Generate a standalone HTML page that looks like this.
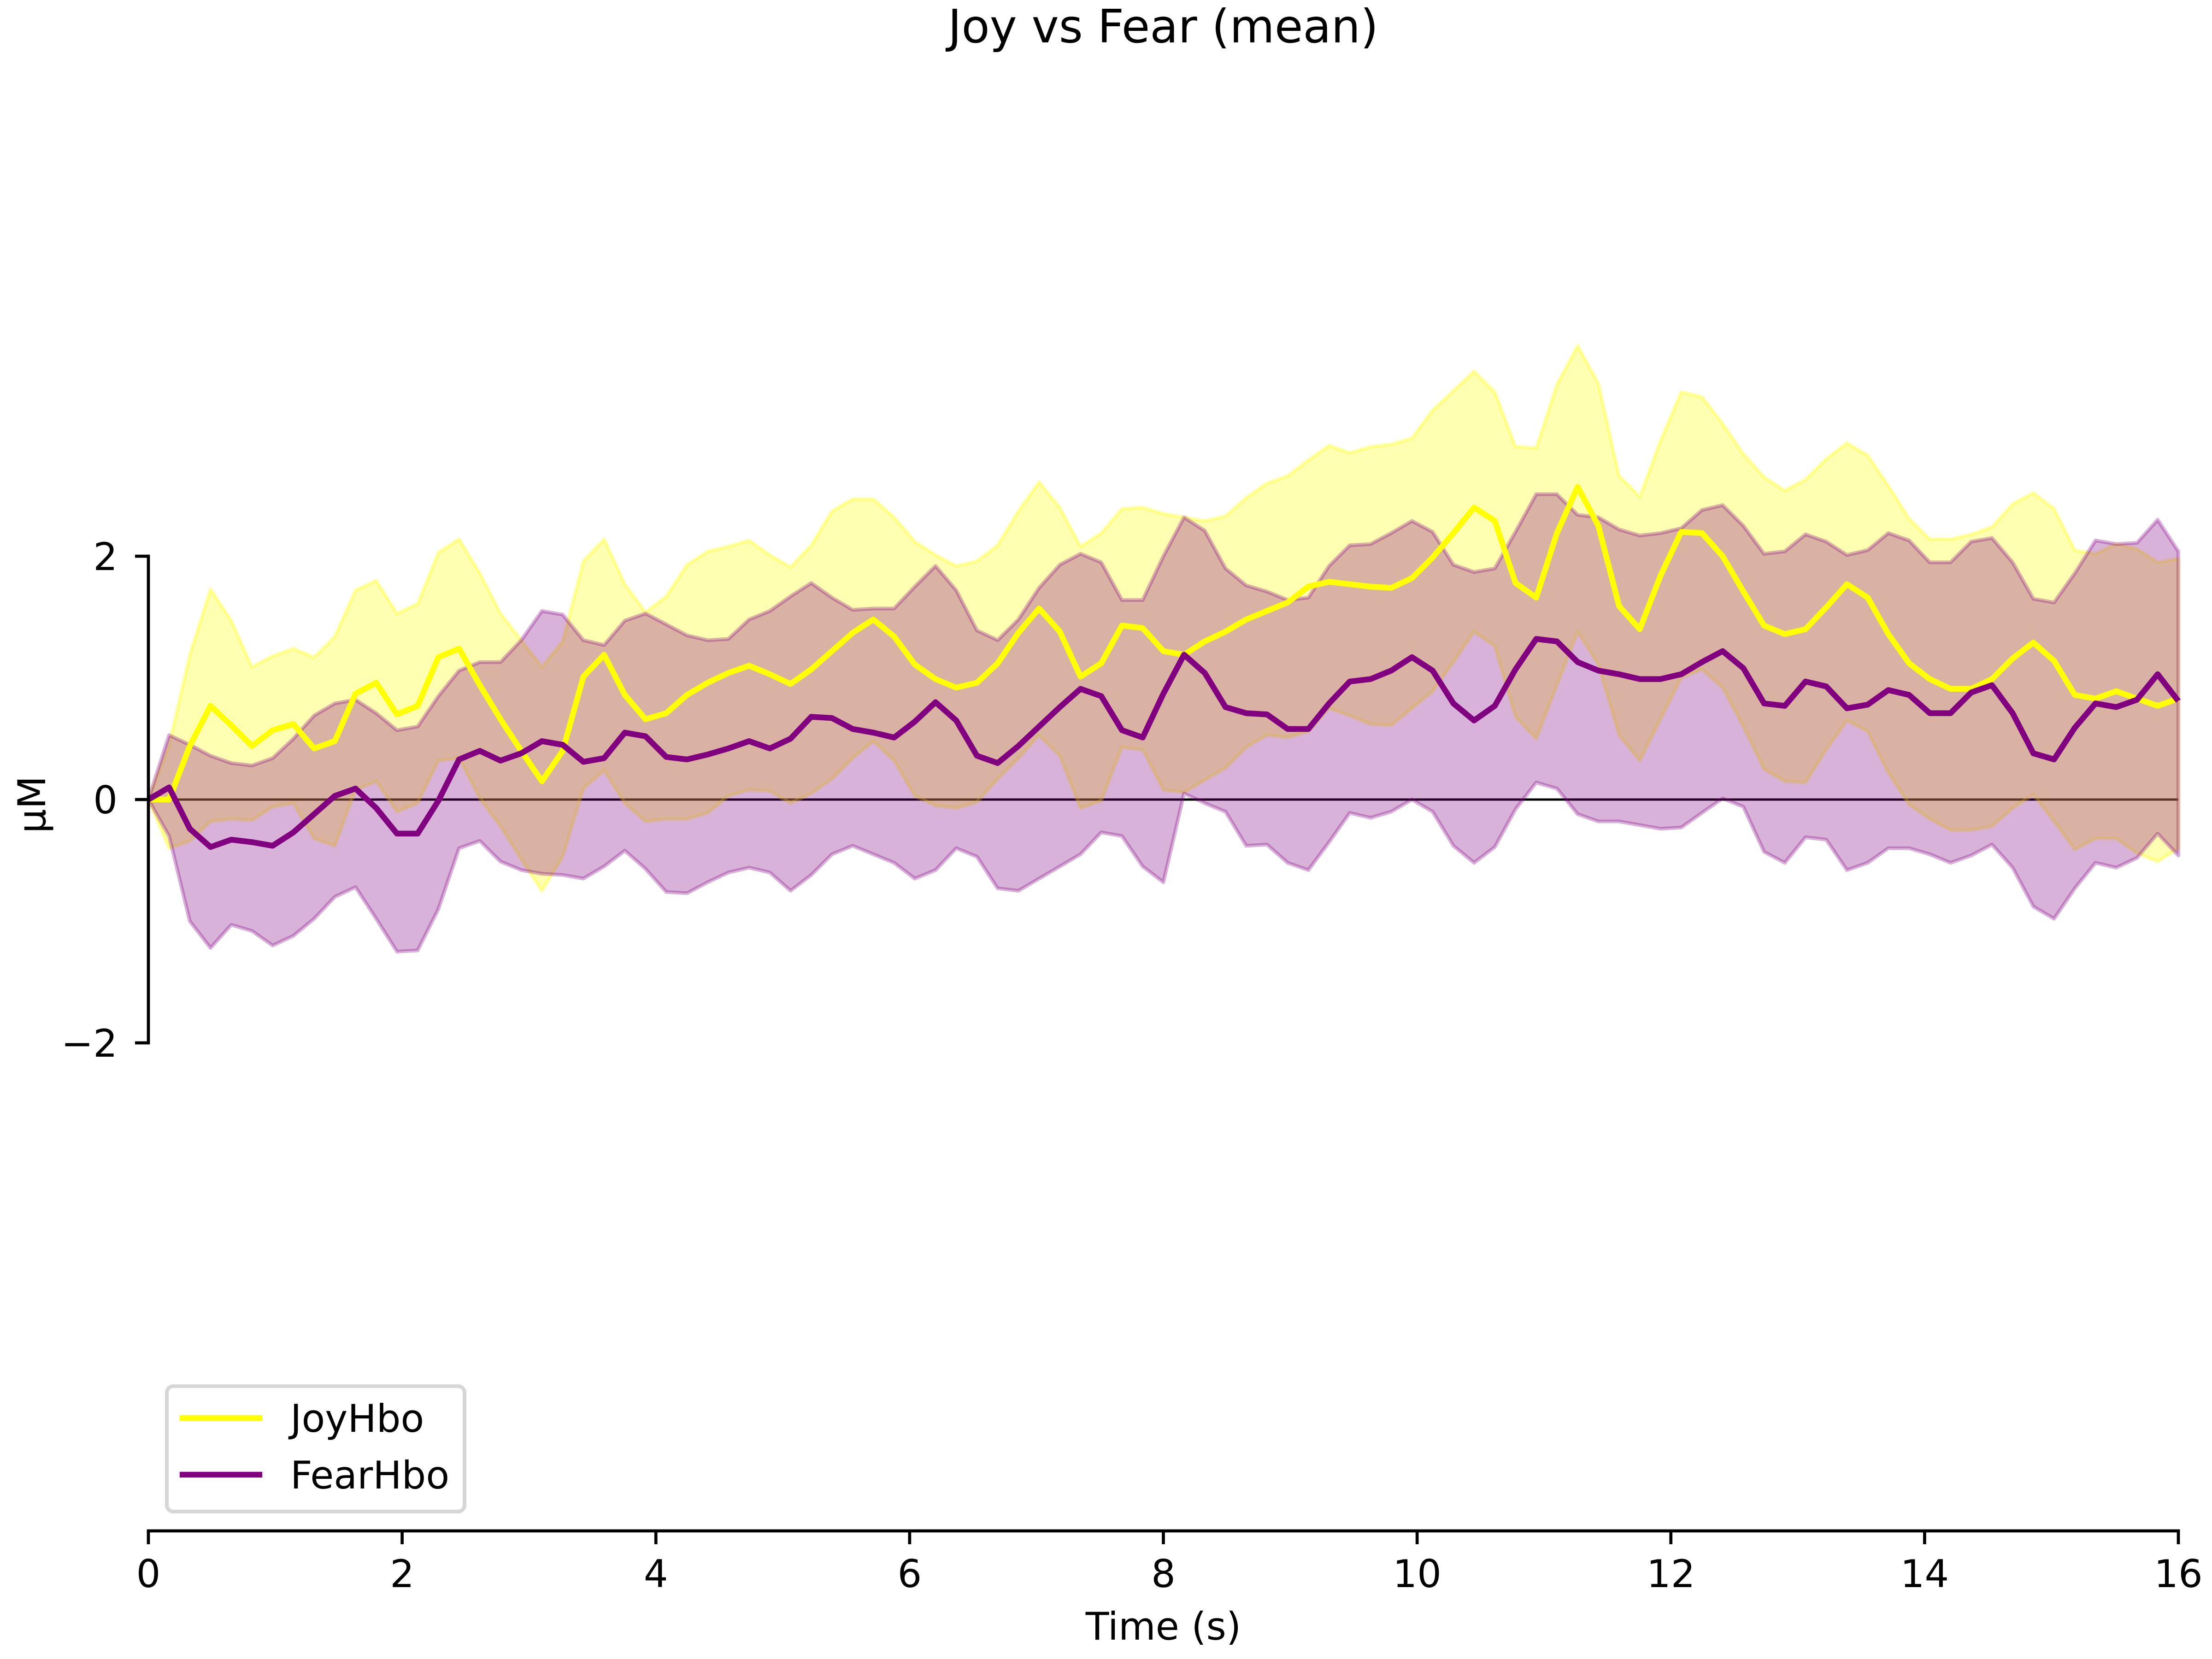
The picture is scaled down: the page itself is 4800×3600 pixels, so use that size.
<!DOCTYPE html>
<html><head><meta charset="utf-8"><style>
html,body{margin:0;padding:0;background:#fff;}
svg{display:block;}
text{font-family:"DejaVu Sans","Liberation Sans",sans-serif;}
</style></head><body>
<svg id="chart" width="4800" height="3600" viewBox="0 0 4800 3600" xmlns="http://www.w3.org/2000/svg">
<rect width="4800" height="3600" fill="#fff"/>
<text x="2524" y="92" font-size="100" text-anchor="middle">Joy vs Fear (mean)</text>
<g id="plot"></g>
<g id="axes"></g>
<g>
<rect x="362" y="3008" width="646" height="272" rx="14" fill="#fff" stroke="#d6d6d6" stroke-width="8"/>
<line x1="390" y1="3077" x2="569" y2="3077" stroke="#ffff00" stroke-width="12.5"/>
<text x="630" y="3107" font-size="83">JoyHbo</text>
<line x1="390" y1="3200" x2="569" y2="3200" stroke="#800080" stroke-width="12.5"/>
<text x="630" y="3230" font-size="83">FearHbo</text>
</g>
</svg>
<script>
const joyMean=[0,0.0,0.44,0.77,0.61,0.44,0.57,0.62,0.42,0.48,0.87,0.96,0.70,0.77,1.17,1.24,0.94,0.66,0.40,0.15,0.40,1.01,1.19,0.86,0.66,0.71,0.86,0.96,1.04,1.10,1.03,0.95,1.07,1.22,1.37,1.48,1.34,1.11,0.99,0.92,0.96,1.12,1.37,1.57,1.38,1.01,1.12,1.43,1.41,1.22,1.19,1.30,1.38,1.48,1.55,1.62,1.75,1.79,1.77,1.75,1.74,1.82,1.99,2.19,2.40,2.29,1.78,1.66,2.19,2.57,2.25,1.59,1.40,1.84,2.20,2.19,2.00,1.71,1.43,1.36,1.40,1.58,1.77,1.66,1.36,1.12,0.99,0.91,0.91,0.99,1.16,1.29,1.14,0.86,0.83,0.89,0.83,0.77,0.83];
const joyUpper=[0,0.45,1.19,1.73,1.47,1.09,1.18,1.24,1.17,1.34,1.72,1.80,1.53,1.61,2.03,2.14,1.86,1.53,1.31,1.09,1.30,1.96,2.14,1.77,1.54,1.67,1.93,2.04,2.08,2.13,2.01,1.91,2.09,2.37,2.47,2.47,2.32,2.12,2.01,1.92,1.96,2.09,2.37,2.61,2.40,2.08,2.19,2.39,2.40,2.35,2.32,2.29,2.33,2.48,2.60,2.66,2.79,2.91,2.85,2.90,2.92,2.97,3.20,3.36,3.52,3.35,2.90,2.89,3.41,3.73,3.42,2.66,2.49,2.95,3.35,3.31,3.09,2.84,2.65,2.54,2.63,2.80,2.93,2.83,2.58,2.31,2.14,2.14,2.18,2.24,2.43,2.52,2.39,2.05,2.02,2.10,2.06,1.95,1.98];
const joyLower=[0,-0.40,-0.34,-0.18,-0.16,-0.17,-0.06,-0.03,-0.32,-0.38,0.08,0.15,-0.10,-0.03,0.32,0.34,0.01,-0.22,-0.49,-0.75,-0.47,0.09,0.24,-0.03,-0.18,-0.16,-0.16,-0.11,0.03,0.08,0.07,-0.03,0.05,0.17,0.34,0.48,0.32,0.03,-0.05,-0.07,-0.02,0.17,0.34,0.53,0.36,-0.07,-0.01,0.43,0.41,0.08,0.06,0.16,0.26,0.43,0.53,0.51,0.56,0.75,0.69,0.62,0.61,0.75,0.89,1.13,1.38,1.26,0.68,0.50,0.94,1.38,1.11,0.53,0.32,0.66,1.00,1.07,0.92,0.60,0.25,0.15,0.14,0.41,0.65,0.56,0.22,-0.04,-0.16,-0.25,-0.25,-0.22,-0.07,0.04,-0.18,-0.41,-0.32,-0.32,-0.44,-0.51,-0.40];
const fearMean=[0,0.10,-0.24,-0.39,-0.33,-0.35,-0.38,-0.27,-0.12,0.03,0.09,-0.07,-0.28,-0.28,-0.01,0.33,0.40,0.32,0.38,0.48,0.45,0.31,0.34,0.55,0.52,0.35,0.33,0.37,0.42,0.48,0.42,0.50,0.68,0.67,0.58,0.55,0.51,0.64,0.80,0.65,0.36,0.30,0.44,0.60,0.76,0.91,0.85,0.57,0.51,0.87,1.19,1.04,0.76,0.71,0.70,0.58,0.58,0.79,0.97,0.99,1.06,1.17,1.06,0.79,0.65,0.77,1.07,1.32,1.30,1.13,1.06,1.03,0.99,0.99,1.03,1.13,1.22,1.08,0.79,0.77,0.97,0.93,0.75,0.78,0.90,0.86,0.71,0.71,0.88,0.94,0.71,0.38,0.33,0.59,0.79,0.76,0.82,1.03,0.81];
const fearUpper=[0,0.53,0.45,0.36,0.30,0.28,0.34,0.50,0.69,0.79,0.82,0.71,0.57,0.60,0.85,1.06,1.13,1.13,1.31,1.55,1.52,1.31,1.27,1.47,1.53,1.44,1.35,1.31,1.32,1.48,1.55,1.67,1.78,1.66,1.56,1.57,1.57,1.75,1.92,1.72,1.39,1.31,1.48,1.74,1.93,2.02,1.95,1.64,1.64,2.00,2.32,2.21,1.90,1.76,1.71,1.64,1.66,1.92,2.09,2.10,2.19,2.29,2.20,1.93,1.87,1.90,2.20,2.51,2.51,2.34,2.32,2.22,2.17,2.19,2.23,2.38,2.42,2.25,2.02,2.04,2.18,2.12,2.01,2.05,2.19,2.13,1.95,1.95,2.12,2.15,1.95,1.65,1.62,1.86,2.13,2.10,2.11,2.30,2.04];
const fearLower=[0,-0.30,-1.00,-1.22,-1.03,-1.08,-1.20,-1.12,-0.98,-0.80,-0.72,-0.98,-1.25,-1.24,-0.90,-0.40,-0.34,-0.51,-0.58,-0.61,-0.62,-0.65,-0.55,-0.42,-0.57,-0.76,-0.77,-0.68,-0.60,-0.56,-0.60,-0.75,-0.62,-0.45,-0.38,-0.45,-0.52,-0.65,-0.58,-0.40,-0.47,-0.73,-0.75,-0.65,-0.55,-0.45,-0.27,-0.30,-0.55,-0.68,0.05,-0.03,-0.10,-0.38,-0.37,-0.52,-0.58,-0.35,-0.11,-0.15,-0.10,0.00,-0.10,-0.38,-0.52,-0.39,-0.08,0.14,0.09,-0.12,-0.18,-0.18,-0.21,-0.24,-0.23,-0.11,0.01,-0.06,-0.43,-0.52,-0.31,-0.33,-0.58,-0.52,-0.40,-0.40,-0.45,-0.52,-0.46,-0.37,-0.56,-0.88,-0.98,-0.73,-0.52,-0.56,-0.48,-0.28,-0.46];
const xTicks=[0,2,4,6,8,10,12,14,16];
const yTicks=[-2,0,2];
const tMax=16;

const X0=322,X1=4727,Y0=1735,PPU=264;
const sx=t=>X0+(X1-X0)*t/tMax;
const sy=v=>Y0-v*PPU;
const N=joyMean.length;
const tt=i=>i*tMax/(N-1);
const NS="http://www.w3.org/2000/svg";
const plot=document.getElementById('plot');
const axes=document.getElementById('axes');
function mk(tag,attrs,parent){const e=document.createElementNS(NS,tag);for(const k in attrs)e.setAttribute(k,attrs[k]);parent.appendChild(e);return e;}
function linePts(arr){return arr.map((v,i)=>sx(tt(i)).toFixed(1)+','+sy(v).toFixed(1)).join(' ');}
function bandPts(up,lo){const a=up.map((v,i)=>sx(tt(i)).toFixed(1)+','+sy(v).toFixed(1));const b=lo.map((v,i)=>sx(tt(i)).toFixed(1)+','+sy(v).toFixed(1)).reverse();return a.concat(b).join(' ');}

const zl=mk('line',{x1:sx(0),y1:sy(0),x2:sx(tMax),y2:sy(0),stroke:'#000','stroke-width':5},plot);


const jb=mk('polygon',{points:bandPts(joyUpper,joyLower),fill:'#ffff00','fill-opacity':0.3,stroke:'#ffff00','stroke-opacity':0.3,'stroke-width':8,'stroke-linejoin':'round'},plot);


const fb=mk('polygon',{points:bandPts(fearUpper,fearLower),fill:'#800080','fill-opacity':0.3,stroke:'#800080','stroke-opacity':0.3,'stroke-width':8,'stroke-linejoin':'round'},plot);


const jl=mk('polyline',{points:linePts(joyMean),fill:'none',stroke:'#ffff00','stroke-width':12.5,'stroke-linejoin':'round'},plot);


const fl=mk('polyline',{points:linePts(fearMean),fill:'none',stroke:'#800080','stroke-width':12.5,'stroke-linejoin':'round'},plot);



const ls=mk('line',{x1:X0,y1:sy(2),x2:X0,y2:sy(-2),stroke:'#000','stroke-width':6.7,'stroke-linecap':'square'},axes);


const BY=3322;
const bs=mk('line',{x1:sx(0),y1:BY,x2:sx(tMax),y2:BY,stroke:'#000','stroke-width':6.7,'stroke-linecap':'square'},axes);


yTicks.forEach(v=>{
  const tk=mk('line',{x1:X0-29,y1:sy(v),x2:X0,y2:sy(v),stroke:'#000','stroke-width':6.7},axes);
  
  
  const lb=mk('text',{x:255,y:sy(v)+30,'font-size':83,'text-anchor':'end'},axes);
  lb.textContent=v<0?'\u2212'+Math.abs(v):String(v);
  
  
});
xTicks.forEach(v=>{
  const tk=mk('line',{x1:sx(v),y1:BY,x2:sx(v),y2:BY+29,stroke:'#000','stroke-width':6.7},axes);
  
  
  const lb=mk('text',{x:sx(v),y:BY+122,'font-size':83,'text-anchor':'middle'},axes);
  lb.textContent=String(v);
  
  
});
const xt=mk('text',{x:(X0+X1)/2,y:3558,'font-size':83,'text-anchor':'middle'},axes);
xt.textContent='Time (s)';


const yt=mk('text',{x:0,y:0,'font-size':83,'text-anchor':'middle',transform:'translate(98,1746) rotate(-90)'},axes);
yt.textContent='\u00B5M';


</script>
</body></html>
